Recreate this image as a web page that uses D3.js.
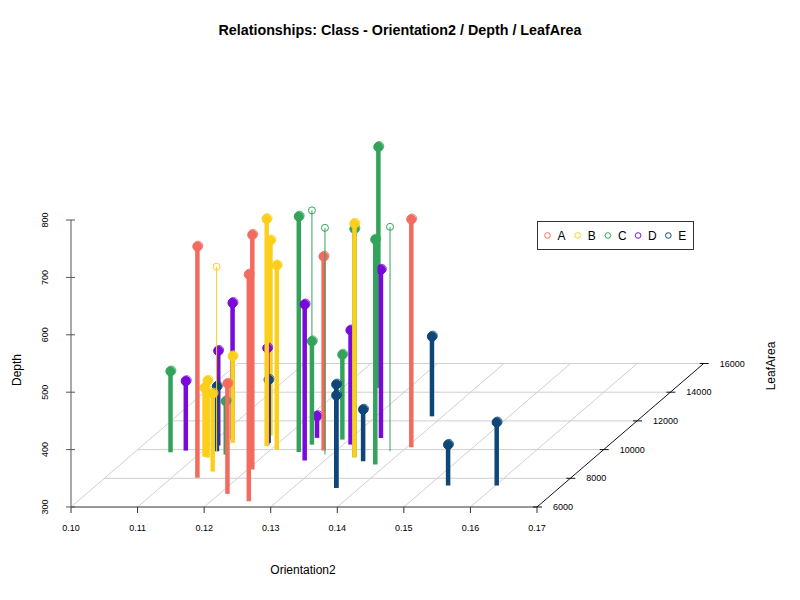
<!DOCTYPE html>
<html>
<head>
<meta charset="utf-8">
<script src="https://cdn.jsdelivr.net/npm/d3@7"></script>
<style>
  body { margin: 0; background: #fff; }
  text { font-family: "Liberation Sans", Arial, Helvetica, sans-serif; }
</style>
</head>
<body>
<svg id="chart" width="800" height="600"></svg>
<script>
// ---- data ----
var classes = ["A", "B", "C", "D", "E"];
var orientTicks = [0.10, 0.11, 0.12, 0.13, 0.14, 0.15, 0.16, 0.17];
var depthTicks = [300, 400, 500, 600, 700, 800];
var leafTicks = [6000, 8000, 10000, 12000, 14000, 16000];

var cls    = ["C", "D", "A", "B", "D", "E", "B", "B", "B", "B", "D", "A", "C", "A", "A", "B", "B", "B",
              "D", "E", "C", "C", "C", "D", "A", "C", "D", "E", "E", "C", "D", "C", "B", "C", "C", "D",
              "C", "A", "E", "E", "E", "E"];
var orient = [0.1054, 0.1074, 0.1139, 0.1122, 0.1114, 0.1122, 0.1119, 0.1113, 0.1151, 0.1131, 0.1125, 0.1212, 0.1141, 0.1257, 0.1207, 0.1188, 0.1175, 0.1209,
              0.1186, 0.1185, 0.1246, 0.1253, 0.1253, 0.1270, 0.1281, 0.1290, 0.1249, 0.1365, 0.1365, 0.1290, 0.1311, 0.1339, 0.1339, 0.1254, 0.1383, 0.1345,
              0.1382, 0.1407, 0.1384, 0.1359, 0.1529, 0.1602];
var leaf   = [9813, 9932, 8032, 9862, 10280, 9883, 9445, 9500, 8470, 10468, 10700, 6919, 9653, 6404, 8610, 10231, 10976, 10001,
              10349, 10468, 9841, 10349, 10349, 9236, 9932, 9653, 10816, 7336, 7336, 10697, 10349, 9466, 9466, 14295, 8958, 10816,
              9883, 10161, 12319, 9187, 7496, 7496];
var depth  = [441, 421, 703, 622, 465, 413, 434, 420, 436, 451, 538, 492, 393, 695, 709, 696, 640, 621,
              468, 410, 710, 708, 480, 572, 638, 695, 338, 480, 461, 448, 499, 698, 707, 720, 692, 593,
              691, 697, 439, 390, 371, 410];
// observations drawn with the plain (outline) symbol
var outline = [0, 0, 0, 1, 0, 0, 0, 0, 0, 0, 0, 0, 0, 0, 0, 0, 0, 0,
               0, 0, 0, 1, 0, 0, 0, 1, 0, 0, 0, 0, 0, 0, 0, 0, 0, 0,
               1, 0, 0, 0, 0, 0];

var palette = { A: "#f26b5e", B: "#fccf1c", C: "#33a35c", D: "#7a0ad9", E: "#0e4677" };

var svg = d3.select("#chart");

// projection (scatterplot3d style: x across, depth up, leaf area receding at ~40deg)
var x = d3.scaleLinear().domain([0.10, 0.17]).range([71, 537]);
var z = d3.scaleLinear().domain([300, 800]).range([507, 220]);
var lx = d3.scaleLinear().domain([6000, 16000]).range([0, 166.7]);
var ly = d3.scaleLinear().domain([6000, 16000]).range([0, -143.5]);
function px(o, l) { return x(o) + lx(l); }
function py(l, d) { return z(d) + ly(l); }

// title
svg.append("text")
  .attr("x", 400).attr("y", 35)
  .attr("text-anchor", "middle")
  .style("font-weight", "bold").style("font-size", "14.3px")
  .text("Relationships: Class - Orientation2 / Depth / LeafArea");

// floor grid
var grid = svg.append("g").attr("stroke", "#cfcfcf").attr("stroke-width", 1);
leafTicks.slice(1).forEach(function(l) {
  grid.append("line")
    .attr("x1", px(0.10, l)).attr("y1", py(l, 300))
    .attr("x2", px(0.17, l)).attr("y2", py(l, 300));
});
orientTicks.slice(0, -1).forEach(function(o) {
  grid.append("line")
    .attr("x1", px(o, 6000)).attr("y1", py(6000, 300))
    .attr("x2", px(o, 16000)).attr("y2", py(16000, 300));
});

// x axis (front)
var ax = svg.append("g").attr("stroke", "#333").attr("stroke-width", 1);
ax.append("line").attr("x1", x(0.10)).attr("x2", x(0.17)).attr("y1", 507).attr("y2", 507);
orientTicks.forEach(function(o) {
  ax.append("line").attr("x1", x(o)).attr("x2", x(o)).attr("y1", 507).attr("y2", 513);
  svg.append("text").attr("x", x(o)).attr("y", 531)
    .attr("text-anchor", "middle").style("font-size", "9px")
    .text(d3.format(".2f")(o));
});

// leaf area axis (right, receding)
var ay = svg.append("g").attr("stroke", "#111").attr("stroke-width", 1);
ay.append("line")
  .attr("x1", px(0.17, 6000)).attr("y1", py(6000, 300))
  .attr("x2", px(0.17, 16000)).attr("y2", py(16000, 300));
leafTicks.forEach(function(l) {
  var cx = px(0.17, l), cy = py(l, 300);
  ay.append("line").attr("x1", cx - 4).attr("x2", cx + 5).attr("y1", cy).attr("y2", cy);
  svg.append("text").attr("x", cx + 16).attr("y", cy + 3)
    .style("font-size", "9px").text(l);
});

// depth axis (vertical, left)
var az = svg.append("g").attr("stroke", "#555").attr("stroke-width", 1);
az.append("line").attr("x1", 71).attr("x2", 71).attr("y1", z(300)).attr("y2", z(800));
depthTicks.forEach(function(d) {
  az.append("line").attr("x1", 66).attr("x2", 75).attr("y1", z(d)).attr("y2", z(d));
  svg.append("text")
    .attr("transform", "translate(48," + z(d) + ") rotate(-90)")
    .attr("text-anchor", "middle").style("font-size", "9px")
    .text(d);
});

// axis titles
svg.append("text").attr("x", 303).attr("y", 574).attr("text-anchor", "middle")
  .style("font-size", "12px").text("Orientation2");
svg.append("text").attr("transform", "translate(21,370) rotate(-90)")
  .attr("text-anchor", "middle").style("font-size", "12px").text("Depth");
svg.append("text").attr("transform", "translate(775,366) rotate(-90)")
  .attr("text-anchor", "middle").style("font-size", "12px").text("LeafArea");

// points with vertical drop lines, drawn back to front
var pts = cls.map(function(c, i) {
  return { c: c, o: orient[i], l: leaf[i], d: depth[i], thin: outline[i] === 1, i: i };
});
pts.sort(function(a, b) { return b.l - a.l || a.i - b.i; });

var g = svg.append("g");
pts.forEach(function(p) {
  var col = palette[p.c];
  var bx = px(p.o, p.l), by = py(p.l, 300), ty = py(p.l, p.d);
  g.append("line")
    .attr("x1", bx).attr("x2", bx).attr("y1", by).attr("y2", ty)
    .attr("stroke", col).attr("stroke-width", p.thin ? 1 : 4.5);
  if (p.thin) {
    g.append("circle").attr("cx", bx).attr("cy", ty).attr("r", 3.5)
      .attr("fill", "none").attr("stroke", col).attr("stroke-width", 1);
  } else {
    g.append("circle").attr("cx", bx).attr("cy", ty).attr("r", 4.6)
      .attr("fill", col).attr("stroke", col).attr("stroke-width", 1);
    g.append("circle").attr("cx", bx + 0.8).attr("cy", ty - 0.8).attr("r", 4.6)
      .attr("fill", "none").attr("stroke", col).attr("stroke-width", 0.8);
  }
});

// legend
var leg = svg.append("g");
leg.append("rect").attr("x", 537.5).attr("y", 221.5).attr("width", 156).attr("height", 28)
  .attr("fill", "#fff").attr("stroke", "#333").attr("stroke-width", 1);
classes.forEach(function(c, i) {
  var lx0 = 547.5 + i * 30.2;
  leg.append("circle").attr("cx", lx0).attr("cy", 235.5).attr("r", 2.8)
    .attr("fill", "none").attr("stroke", palette[c]).attr("stroke-width", 1);
  leg.append("text").attr("x", lx0 + 10).attr("y", 240)
    .style("font-size", "12px").text(c);
});
</script>
</body>
</html>
